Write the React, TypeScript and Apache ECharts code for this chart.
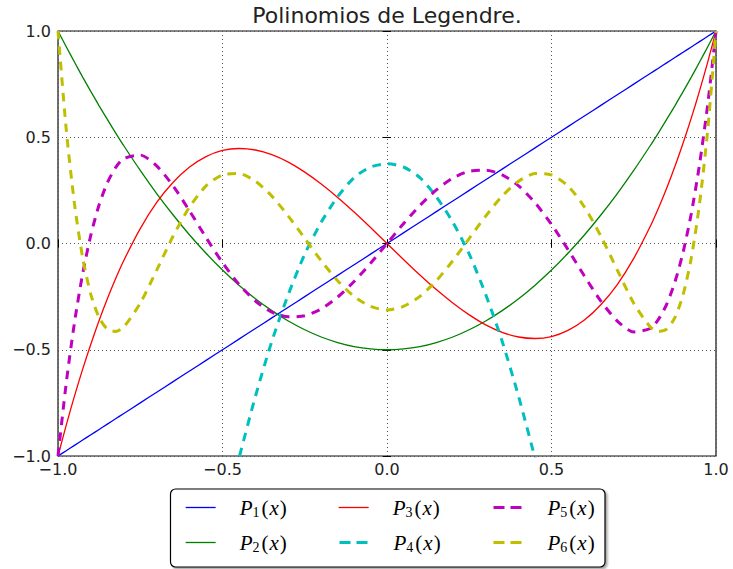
import { useEffect, useRef } from "react";
import * as echarts from "echarts";

const TITLE = "Polinomios de Legendre.";

const xs = [-1, -0.975, -0.95, -0.925, -0.9, -0.875, -0.85, -0.825, -0.8, -0.75, -0.7, -0.65, -0.6, -0.55, -0.5, -0.45, -0.4, -0.35, -0.3, -0.25, -0.2, -0.15, -0.1, -0.05, 0, 0.05, 0.1, 0.15, 0.2, 0.25, 0.3, 0.35, 0.4, 0.45, 0.5, 0.55, 0.6, 0.65, 0.7, 0.75, 0.8, 0.825, 0.85, 0.875, 0.9, 0.925, 0.95, 0.975, 1];

const p1 = [-1, -0.975, -0.95, -0.925, -0.9, -0.875, -0.85, -0.825, -0.8, -0.75, -0.7, -0.65, -0.6, -0.55, -0.5, -0.45, -0.4, -0.35, -0.3, -0.25, -0.2, -0.15, -0.1, -0.05, 0, 0.05, 0.1, 0.15, 0.2, 0.25, 0.3, 0.35, 0.4, 0.45, 0.5, 0.55, 0.6, 0.65, 0.7, 0.75, 0.8, 0.825, 0.85, 0.875, 0.9, 0.925, 0.95, 0.975, 1];

const p2 = [1, 0.926, 0.854, 0.783, 0.715, 0.648, 0.584, 0.521, 0.46, 0.344, 0.235, 0.134, 0.04, -0.046, -0.125, -0.196, -0.26, -0.316, -0.365, -0.406, -0.44, -0.466, -0.485, -0.496, -0.5, -0.496, -0.485, -0.466, -0.44, -0.406, -0.365, -0.316, -0.26, -0.196, -0.125, -0.046, 0.04, 0.134, 0.235, 0.344, 0.46, 0.521, 0.584, 0.648, 0.715, 0.783, 0.854, 0.926, 1];

const p3 = [-1, -0.855, -0.718, -0.591, -0.473, -0.362, -0.26, -0.166, -0.08, 0.07, 0.193, 0.288, 0.36, 0.409, 0.438, 0.447, 0.44, 0.418, 0.383, 0.336, 0.28, 0.217, 0.148, 0.075, 0, -0.075, -0.148, -0.217, -0.28, -0.336, -0.383, -0.418, -0.44, -0.447, -0.438, -0.409, -0.36, -0.288, -0.193, -0.07, 0.08, 0.166, 0.26, 0.362, 0.473, 0.591, 0.718, 0.855, 1];

const p5 = [-1, -0.657, -0.373, -0.142, 0.041, 0.182, 0.286, 0.357, 0.4, 0.416, 0.365, 0.271, 0.153, 0.028, -0.09, -0.192, -0.271, -0.323, -0.345, -0.34, -0.308, -0.252, -0.179, -0.093, 0, 0.093, 0.179, 0.252, 0.308, 0.34, 0.345, 0.323, 0.271, 0.192, 0.09, -0.028, -0.153, -0.271, -0.365, -0.416, -0.4, -0.357, -0.286, -0.182, -0.041, 0.142, 0.373, 0.657, 1];

const p6 = [1, 0.537, 0.188, -0.067, -0.241, -0.349, -0.403, -0.414, -0.392, -0.281, -0.125, 0.035, 0.172, 0.271, 0.323, 0.329, 0.293, 0.223, 0.129, 0.024, -0.081, -0.175, -0.249, -0.296, -0.313, -0.296, -0.249, -0.175, -0.081, 0.024, 0.129, 0.223, 0.293, 0.329, 0.323, 0.271, 0.172, 0.035, -0.125, -0.281, -0.392, -0.414, -0.403, -0.349, -0.241, -0.067, 0.188, 0.537, 1];

const p4X = [-0.46, -0.45, -0.4, -0.35, -0.3, -0.25, -0.2, -0.15, -0.1, -0.05, 0, 0.05, 0.1, 0.15, 0.2, 0.25, 0.3, 0.35, 0.4, 0.45, 0.46];
const p4 = [-1.07, -1.01, -0.72, -0.46, -0.24, -0.05, 0.1, 0.22, 0.31, 0.36, 0.375, 0.36, 0.31, 0.22, 0.1, -0.05, -0.24, -0.46, -0.72, -1.01, -1.07];

const tickValues = [-1, -0.5, 0, 0.5, 1];
const tickLabels = ["\u22121.0", "\u22120.5", "0.0", "0.5", "1.0"];

const seriesNames = ["P1", "P2", "P3", "P4", "P5", "P6"];
const subscripts = ["1", "2", "3", "4", "5", "6"];

const fmt = (v: number) => {
  const i = tickValues.findIndex((t) => Math.abs(t - v) < 1e-9);
  return i >= 0 ? tickLabels[i] : "";
};

export default function App() {
  const ref = useRef<HTMLDivElement>(null);
  useEffect(() => {
    if (!ref.current) return;
    const chart = echarts.init(ref.current, undefined, { renderer: "svg" });
    const pair = (xv: number[], yv: number[]) => xv.map((x, i) => [x, yv[i]]);
    const styles: any[] = [
      { color: "#0000ff", width: 1.3, type: "solid" },
      { color: "#008000", width: 1.3, type: "solid" },
      { color: "#ff0000", width: 1.3, type: "solid" },
      { color: "#00bfbf", width: 3, type: [8.5, 7] },
      { color: "#bf00bf", width: 3, type: [8.5, 7] },
      { color: "#bfbf00", width: 3, type: [8.5, 7] },
    ];
    const legendLine: any[] = [
      { color: "#0000ff", width: 1.3, type: "solid" },
      { color: "#008000", width: 1.3, type: "solid" },
      { color: "#ff0000", width: 1.3, type: "solid" },
      { color: "#00bfbf", width: 3, type: [11, 6] },
      { color: "#bf00bf", width: 3, type: [11, 6] },
      { color: "#bfbf00", width: 3, type: [11, 6] },
    ];
    const datas = [pair(xs, p1), pair(xs, p2), pair(xs, p3), pair(p4X, p4), pair(xs, p5), pair(xs, p6)];
    const series = seriesNames.map((name, i) => ({
      name,
      type: "line",
      data: datas[i],
      showSymbol: false,
      symbol: "none",
      smooth: 0.25,
      clip: true,
      color: styles[i].color,
      lineStyle: { ...styles[i], cap: "butt" },
      xAxisIndex: 0,
      yAxisIndex: 0,
    }));
    const legendPos = [
      { left: 185, top: 496 },
      { left: 185, top: 531 },
      { left: 338, top: 496 },
      { left: 338, top: 531 },
      { left: 492, top: 496 },
      { left: 492, top: 531 },
    ];
    const rich = {
      g: { width: 19, fontSize: 10 },
      p: { fontFamily: "Liberation Serif", fontStyle: "italic", fontSize: 21, color: "#000", lineHeight: 24 },
      s: { fontFamily: "Liberation Serif", fontSize: 14, color: "#000", padding: [9, 1, 0, 0], lineHeight: 24 },
      r: { fontFamily: "Liberation Serif", fontSize: 21, color: "#000", lineHeight: 24, padding: [0, 1, 0, 1] },
    };
    const legends = seriesNames.map((name, i) => ({
      show: true,
      data: [name],
      left: legendPos[i].left,
      top: legendPos[i].top,
      padding: 0,
      itemWidth: 30,
      itemHeight: 14,
      selectedMode: false,
      itemStyle: { opacity: 0, borderWidth: 0 },
      lineStyle: { ...legendLine[i], cap: "butt", opacity: 1 },
      formatter: () => `{g| }{p|P}{s|${subscripts[i]}}{r|(}{p|x}{r|)}`,
      textStyle: { rich },
    }));
    const axisCommon = {
      type: "value",
      min: -1,
      max: 1,
      interval: 0.5,
    };
    chart.setOption({
      animation: false,
      backgroundColor: "#ffffff",
      grid: {
        left: 58,
        right: 17,
        top: 31,
        bottom: 113,
        show: true,
        borderColor: "#111",
        borderWidth: 1.2,
        backgroundColor: "transparent",
      },
      graphic: [
        {
          type: "text",
          x: 387,
          y: 15,
          style: {
            text: TITLE,
            fontFamily: "DejaVu Sans",
            fontSize: 22,
            fill: "#222",
            textAlign: "center",
            textVerticalAlign: "middle",
          },
        },
        {
          type: "rect",
          shape: { x: 170.5, y: 489, width: 434.5, height: 78, r: 5 },
          style: {
            fill: "#fff",
            stroke: "#000",
            lineWidth: 1.2,
            shadowColor: "rgba(0,0,0,0.35)",
            shadowOffsetX: 2,
            shadowOffsetY: 2,
            shadowBlur: 2,
          },
          z: 1,
        },
      ],
      legend: legends,
      xAxis: [
        {
          ...axisCommon,
          position: "bottom",
          axisLine: { show: false },
          axisTick: { show: true, inside: true, length: 4, lineStyle: { color: "#000" } },
          axisLabel: { formatter: fmt, fontFamily: "DejaVu Sans", fontSize: 16, color: "#222", margin: 5 },
          splitLine: { show: true, lineStyle: { color: "#555", type: [1, 3], width: 1 } },
        },
        {
          ...axisCommon,
          position: "top",
          axisLine: { show: false },
          axisTick: { show: true, inside: true, length: 4, lineStyle: { color: "#000" } },
          axisLabel: { show: false },
          splitLine: { show: false },
        },
      ],
      yAxis: [
        {
          ...axisCommon,
          position: "left",
          axisLine: { show: false },
          axisTick: { show: true, inside: true, length: 4, lineStyle: { color: "#000" } },
          axisLabel: { formatter: fmt, fontFamily: "DejaVu Sans", fontSize: 16, color: "#222", margin: 7 },
          splitLine: { show: true, lineStyle: { color: "#555", type: [1, 3], width: 1 } },
        },
        {
          ...axisCommon,
          position: "right",
          axisLine: { show: false },
          axisTick: { show: true, inside: true, length: 4, lineStyle: { color: "#000" } },
          axisLabel: { show: false },
          splitLine: { show: false },
        },
      ],
      series,
    });
    return () => chart.dispose();
  }, []);
  return (
    <div
      ref={ref}
      style={{ position: "absolute", left: 0, top: 0, width: 733, height: 569, background: "#fff" }}
    />
  );
}
